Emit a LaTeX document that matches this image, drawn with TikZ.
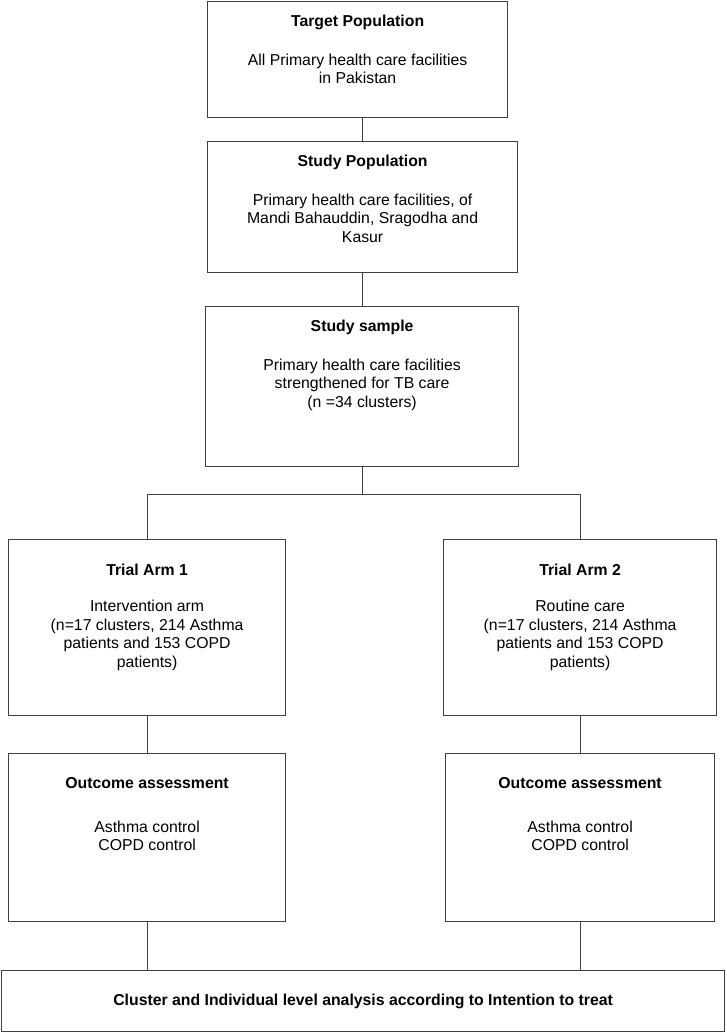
\documentclass[tikz,border=0pt]{standalone}
\usepackage{fontspec}
\setmainfont{Liberation Sans}
\usetikzlibrary{positioning}

\tikzset{
  box/.style={draw=black!75, line width=1.2pt, anchor=north west, inner sep=0pt},
  boxtext/.style={align=center, inner sep=0pt},
  link/.style={draw=black!75, line width=1.2pt}
}

\begin{document}
\begin{tikzpicture}[x=1pt, y=-1pt, font=\fontsize{15.8}{18.6}\selectfont]

        \useasboundingbox (0,0) rectangle (726,1032);

        % Target population
        \node[box, minimum width=300pt, minimum height=116pt] (target) at (207,1) {};
        \node[boxtext, below=13.7pt of target.north] (targettxt) {\textbf{Target Population}\\[20.4pt]All Primary health care facilities\\in Pakistan};

        % Study population
        \node[box, minimum width=310pt, minimum height=131pt] (study) at (207,141) {};
        \node[boxtext, below=13.7pt of study.north] (studytxt) {\textbf{Study Population}\\[20.4pt]Primary health care facilities, of\\Mandi Bahauddin, Sragodha and\\Kasur};
        \draw[link] (target.south -| study.north) -- (study.north);

        % Study sample
        \node[box, minimum width=313pt, minimum height=160pt] (sample) at (205,306) {};
        \node[boxtext, below=13.7pt of sample.north] (sampletxt) {\textbf{Study sample}\\[20.4pt]Primary health care facilities\\strengthened for TB care\\(n =34 clusters)};
        \draw[link] (study.south -| sample.north) -- (sample.north);

        % Trial arms
        \node[box, minimum width=277pt, minimum height=176pt] (arm1) at (8,539) {};
        \node[boxtext, below=24.7pt of arm1.north] (arm1txt) {\textbf{Trial Arm 1}\\[17.5pt]Intervention arm\\(n=17 clusters, 214 Asthma\\patients and 153 COPD\\patients)};

        \node[box, minimum width=273pt, minimum height=176pt] (arm2) at (443,539) {};
        \node[boxtext, below=24.7pt of arm2.north] (arm2txt) {\textbf{Trial Arm 2}\\[17.5pt]Routine care\\(n=17 clusters, 214 Asthma\\patients and 153 COPD\\patients)};

        \draw[link] (sample.south) -- ++(0,27) coordinate (split);
        \draw[link] (arm1.north) |- (split) -| (arm2.north);

        % Outcome assessment
        \node[box, minimum width=277pt, minimum height=168pt] (out1) at (8,753) {};
        \node[boxtext, below=24.7pt of out1.north] (out1txt) {\textbf{Outcome assessment}\\[24.5pt]Asthma control\\COPD control};
        \draw[link] (arm1.south) -- (out1.north);

        \node[box, minimum width=269pt, minimum height=168pt] (out2) at (445,753) {};
        \node[boxtext, below=24.7pt of out2.north] (out2txt) {\textbf{Outcome assessment}\\[24.5pt]Asthma control\\COPD control};
        \draw[link] (arm2.south) -- (out2.north);

        % Analysis
        \node[box, minimum width=723pt, minimum height=61pt, font=\fontsize{15.8}{18.6}\selectfont\bfseries] (analysis) at (1,970) {Cluster and Individual level analysis according to Intention to treat};
        \draw[link] (out1.south) -- (out1.south |- analysis.north);
        \draw[link] (out2.south) -- (out2.south |- analysis.north);

    \end{tikzpicture}
\end{document}
